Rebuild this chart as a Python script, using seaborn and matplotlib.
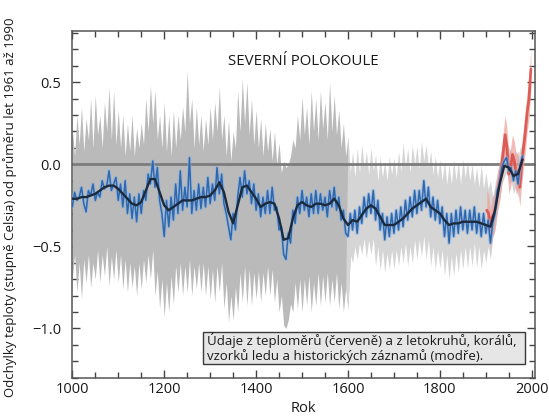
import numpy as np
import matplotlib
matplotlib.use("Agg")
import matplotlib.pyplot as plt
from matplotlib.patches import Rectangle
from matplotlib.ticker import MultipleLocator
import seaborn as sns

# ---------------- data ----------------
# reconstructed (proxy) series, 5-year resolution, 1000..1980
proxy_start, proxy_step = 1000, 5
proxy_blue = [
    -0.26, -0.17, -0.22, -0.20, -0.14, -0.24, -0.29, -0.16, -0.19, -0.12,
    -0.22, -0.17, -0.20, -0.10, -0.15, -0.13, -0.04, -0.16, -0.12, -0.08,
    -0.22, -0.12, -0.26, -0.10, -0.30, -0.18, -0.33, -0.20, -0.35, -0.18,
    -0.30, -0.16, -0.22, -0.06, -0.12, 0.02, -0.14, -0.02, -0.22, -0.30,
    -0.44, -0.22, -0.38, -0.20, -0.34, -0.12, -0.30, -0.04, -0.28, -0.14,
    -0.26, 0.04, -0.30, -0.16, -0.28, -0.12, -0.27, -0.14, -0.26, -0.08,
    -0.24, -0.12, -0.22, -0.02, -0.18, -0.06, -0.24, -0.30, -0.38, -0.46,
    -0.30, -0.40, -0.20, -0.08, -0.20, -0.04, -0.18, -0.10, -0.24, -0.12,
    -0.28, -0.18, -0.32, -0.20, -0.30, -0.16, -0.30, -0.14, -0.28, -0.26,
    -0.40, -0.38, -0.55, -0.58, -0.42, -0.48, -0.28, -0.36, -0.20, -0.30,
    -0.16, -0.28, -0.20, -0.32, -0.18, -0.30, -0.16, -0.30, -0.18, -0.28,
    -0.20, -0.32, -0.16, -0.26, -0.14, -0.28, -0.20, -0.34, -0.28, -0.42,
    -0.44, -0.30, -0.40, -0.28, -0.42, -0.26, -0.36, -0.20, -0.32, -0.18,
    -0.30, -0.16, -0.34, -0.22, -0.40, -0.30, -0.46, -0.32, -0.44, -0.30,
    -0.42, -0.28, -0.40, -0.26, -0.38, -0.22, -0.34, -0.20, -0.32, -0.16,
    -0.30, -0.16, -0.28, -0.10, -0.26, -0.14, -0.32, -0.20, -0.34, -0.22,
    -0.36, -0.26, -0.44, -0.30, -0.48, -0.30, -0.44, -0.28, -0.42, -0.26,
    -0.40, -0.28, -0.42, -0.28, -0.40, -0.26, -0.42, -0.30, -0.44, -0.30,
    -0.42, -0.34, -0.48, -0.36, -0.30, -0.16, -0.12, -0.02, 0.02, 0.04,
    -0.04, -0.02, -0.10, -0.04, -0.12, 0.00, 0.05,
]

# uncertainty envelope (grey), 5-year resolution, 1000..1980
band_upper = [
    0.22, 0.05, 0.30, 0.12, 0.35, 0.08, 0.28, 0.15, 0.40, 0.10,
    0.42, 0.18, 0.30, 0.10, 0.38, 0.20, 0.47, 0.15, 0.45, 0.12,
    0.33, 0.10, 0.30, 0.05, 0.25, 0.08, 0.30, 0.05, 0.22, 0.10,
    0.25, 0.12, 0.40, 0.20, 0.48, 0.25, 0.45, 0.15, 0.30, 0.10,
    0.38, 0.08, 0.30, 0.05, 0.33, 0.10, 0.30, 0.15, 0.35, 0.20,
    0.57, 0.25, 0.40, 0.10, 0.35, 0.12, 0.30, 0.08, 0.28, 0.12,
    0.35, 0.15, 0.38, 0.20, 0.47, 0.15, 0.30, 0.05, 0.27, 0.02,
    0.20, 0.10, 0.45, 0.20, 0.52, 0.25, 0.50, 0.18, 0.40, 0.12,
    0.33, 0.10, 0.28, 0.05, 0.25, 0.08, 0.22, 0.02, 0.20, 0.00,
    0.13, -0.05, 0.02, -0.02, 0.00, 0.05, 0.15, 0.10, 0.30, 0.15,
    0.41, 0.18, 0.35, 0.12, 0.45, 0.20, 0.40, 0.15, 0.45, 0.22,
    0.38, 0.15, 0.50, 0.20, 0.42, 0.18, 0.33, 0.10, 0.25, 0.05,
    0.17, -0.05, 0.08, -0.08, 0.10, -0.05, 0.12, -0.02, 0.08, -0.06,
    0.10, -0.04, 0.06, -0.10, 0.05, -0.08, 0.02, -0.10, 0.05, -0.06,
    0.04, -0.08, 0.08, -0.04, 0.13, -0.02, 0.10, -0.05, 0.12, 0.00,
    0.11, -0.03, 0.14, 0.02, 0.12, -0.02, 0.08, -0.06, 0.05, -0.08,
    0.03, -0.10, 0.02, -0.12, 0.00, -0.12, 0.03, -0.10, 0.02, -0.12,
    0.03, -0.08, 0.02, -0.10, 0.00, -0.12, -0.02, -0.14, 0.00, -0.15,
    -0.05, -0.15, -0.10, -0.20, -0.12, -0.05, 0.00, 0.05, 0.12, 0.15,
    0.10, 0.08, 0.05, 0.08, 0.05, 0.10, 0.12,
]
band_lower = [
    -0.70, -0.55, -0.78, -0.60, -0.82, -0.58, -0.72, -0.55, -0.75, -0.60,
    -0.70, -0.52, -0.72, -0.55, -0.68, -0.50, -0.74, -0.56, -0.70, -0.52,
    -0.72, -0.55, -0.76, -0.58, -0.78, -0.60, -0.75, -0.62, -0.80, -0.60,
    -0.76, -0.58, -0.72, -0.55, -0.70, -0.52, -0.80, -0.65, -0.88, -0.70,
    -0.93, -0.72, -0.90, -0.68, -0.85, -0.62, -0.78, -0.60, -0.80, -0.62,
    -0.78, -0.58, -0.80, -0.62, -0.76, -0.60, -0.78, -0.60, -0.80, -0.62,
    -0.82, -0.64, -0.84, -0.62, -0.78, -0.60, -0.88, -0.72, -0.96, -0.80,
    -0.95, -0.75, -0.90, -0.66, -0.84, -0.62, -0.86, -0.64, -0.86, -0.66,
    -0.82, -0.65, -0.84, -0.66, -0.80, -0.62, -0.80, -0.64, -0.84, -0.70,
    -0.90, -0.80, -0.98, -1.00, -0.95, -0.85, -0.90, -0.72, -0.88, -0.70,
    -0.90, -0.70, -0.86, -0.68, -0.90, -0.72, -0.86, -0.66, -0.86, -0.68,
    -0.84, -0.66, -0.86, -0.70, -0.84, -0.66, -0.88, -0.72, -0.90, -0.75,
    -0.88, -0.55, -0.60, -0.50, -0.58, -0.48, -0.55, -0.45, -0.57, -0.46,
    -0.55, -0.45, -0.62, -0.50, -0.65, -0.52, -0.66, -0.54, -0.64, -0.52,
    -0.64, -0.52, -0.62, -0.50, -0.60, -0.48, -0.62, -0.50, -0.60, -0.46,
    -0.58, -0.46, -0.56, -0.44, -0.58, -0.46, -0.62, -0.50, -0.64, -0.52,
    -0.63, -0.52, -0.68, -0.55, -0.70, -0.56, -0.68, -0.54, -0.66, -0.52,
    -0.64, -0.50, -0.63, -0.50, -0.62, -0.48, -0.63, -0.50, -0.64, -0.52,
    -0.60, -0.50, -0.58, -0.45, -0.40, -0.28, -0.22, -0.12, -0.08, -0.05,
    -0.12, -0.10, -0.18, -0.14, -0.20, -0.12, -0.08,
]

# smoothed (50-year) series, 10-year resolution, 1000..1980
smooth_start, smooth_step = 1000, 10
smooth_black = [
    -0.21, -0.21, -0.20, -0.20, -0.19, -0.18, -0.16, -0.14, -0.13, -0.13,
    -0.15, -0.18, -0.21, -0.24, -0.25, -0.23, -0.16, -0.09, -0.09, -0.17,
    -0.25, -0.28, -0.26, -0.24, -0.22, -0.22, -0.22, -0.21, -0.20, -0.20,
    -0.19, -0.16, -0.11, -0.17, -0.29, -0.36, -0.25, -0.14, -0.13, -0.17,
    -0.21, -0.26, -0.24, -0.23, -0.24, -0.33, -0.46, -0.45, -0.33, -0.25,
    -0.23, -0.25, -0.26, -0.24, -0.24, -0.25, -0.24, -0.21, -0.25, -0.33,
    -0.37, -0.34, -0.35, -0.31, -0.27, -0.25, -0.27, -0.32, -0.37, -0.37,
    -0.37, -0.35, -0.33, -0.30, -0.27, -0.25, -0.23, -0.21, -0.26, -0.28,
    -0.30, -0.34, -0.37, -0.36, -0.36, -0.35, -0.35, -0.35, -0.35, -0.36,
    -0.37, -0.38, -0.28, -0.12, -0.01, -0.02, -0.07, -0.06, 0.03,
]

# instrumental (thermometer) series, 4-year resolution, 1902..1998
instr_years = [1902, 1906, 1910, 1914, 1918, 1922, 1926, 1930, 1934, 1938,
               1942, 1946, 1950, 1954, 1958, 1962, 1966, 1970, 1974, 1978,
               1982, 1986, 1990, 1994, 1998]
instr_red = [-0.28, -0.30, -0.40, -0.32, -0.30, -0.24, -0.16, -0.10, -0.02, 0.08,
             0.18, 0.10, -0.06, -0.02, 0.06, 0.02, -0.06, -0.04, -0.14, 0.00,
             0.10, 0.20, 0.32, 0.40, 0.58]

title_text = "SEVERNÍ POLOKOULE"
ylabel_text = "Odchylky teploty (stupně Celsia) od průměru let 1961 až 1990"
xlabel_text = "Rok"
note_text = ("Údaje z teploměrů (červeně) a z letokruhů, korálů,\n"
             "vzorků ledu a historických záznamů (modře).")
x_ticks = [1000, 1200, 1400, 1600, 1800, 2000]
y_ticks = [-1.0, -0.5, 0.0, 0.5]

# ---------------- plot ----------------
sns.set_style("ticks")
plt.rcParams["font.family"] = ["Open Sans", "DejaVu Sans"]

proxy_years = np.arange(proxy_start, proxy_start + proxy_step * len(proxy_blue), proxy_step)
smooth_years = np.arange(smooth_start, smooth_start + smooth_step * len(smooth_black), smooth_step)
assert len(band_upper) == len(proxy_blue) == len(band_lower)

fig = plt.figure(figsize=(5.49, 4.16), dpi=100)
ax = fig.add_axes([72.3 / 549, 1 - 377.7 / 416, (535 - 72.3) / 549, (377.7 - 31.3) / 416])

up = np.array(band_upper)
lo = np.array(band_lower)
ax.fill_between(proxy_years, lo, up, where=proxy_years <= 1600, color="#bababa",
                lw=0, zorder=1, interpolate=True)
ax.fill_between(proxy_years, lo, up, where=proxy_years >= 1600, color="#d5d5d5",
                lw=0, zorder=1, interpolate=True)

ax.axhline(0.0, color="#7c7c7c", lw=2.0, zorder=2)

# instrumental red
red = np.array(instr_red)
ax.fill_between(instr_years, red - 0.12, red + 0.12, color="#eda09a", lw=0, alpha=0.7, zorder=3)
sns.lineplot(x=instr_years, y=instr_red, ax=ax, color="#dc4a44", lw=2.0, alpha=0.85, zorder=4)

# proxy blue
sns.lineplot(x=proxy_years, y=proxy_blue, ax=ax, color="#8ab4e0", lw=2.6, alpha=0.6, zorder=5)
sns.lineplot(x=proxy_years, y=proxy_blue, ax=ax, color="#2f68b0", lw=1.1, zorder=6)

# smoothed
sns.lineplot(x=smooth_years, y=smooth_black, ax=ax, color="#1c2a3e", lw=1.7, zorder=7)

ax.set_xlim(1000, 2007)
ax.set_ylim(-1.3, 0.81)
ax.set_xticks(x_ticks)
ax.set_xticklabels([str(t) for t in x_ticks])
ax.set_yticks(y_ticks)
ax.set_yticklabels(["\u22121.0", "\u22120.5", "0.0", "0.5"])
ax.xaxis.set_minor_locator(MultipleLocator(50))
ax.yaxis.set_minor_locator(MultipleLocator(0.1))
ax.tick_params(which="both", direction="in", top=True, right=True, color="#444444",
               width=1.0, labelsize=10.5, labelcolor="#1a1a1a")
ax.tick_params(which="major", length=6)
ax.tick_params(which="minor", length=4)
ax.tick_params(axis="x", pad=3)
ax.tick_params(axis="y", pad=8)
for s in ax.spines.values():
    s.set_color("#555555")
    s.set_linewidth(1.1)
ax.set_xlabel("")
ax.set_ylabel("")

ax.text(0.4986, 0.914, title_text, transform=ax.transAxes, ha="center", va="center",
        fontsize=10.8, color="#1a1a1a")

# note box
ax.add_patch(Rectangle((0.2831, 0.0395), 0.9784 - 0.2831, 0.1328 - 0.0395,
                       transform=ax.transAxes, facecolor="#e6e6e6", edgecolor="#3a3a3a",
                       lw=1.0, zorder=8))
ax.text(0.292, 0.0862, note_text, transform=ax.transAxes, ha="left", va="center",
        fontsize=9.5, color="#1a1a1a", linespacing=1.05, zorder=9)

fig.text(10 / 549, 1 - 207 / 416, ylabel_text, rotation=90, ha="center", va="center",
         fontsize=9.5, color="#1a1a1a")
fig.text(303 / 549, 1 - 408 / 416, xlabel_text, ha="center", va="center",
         fontsize=10.5, color="#1a1a1a")

fig.savefig("out.png", dpi=100)
